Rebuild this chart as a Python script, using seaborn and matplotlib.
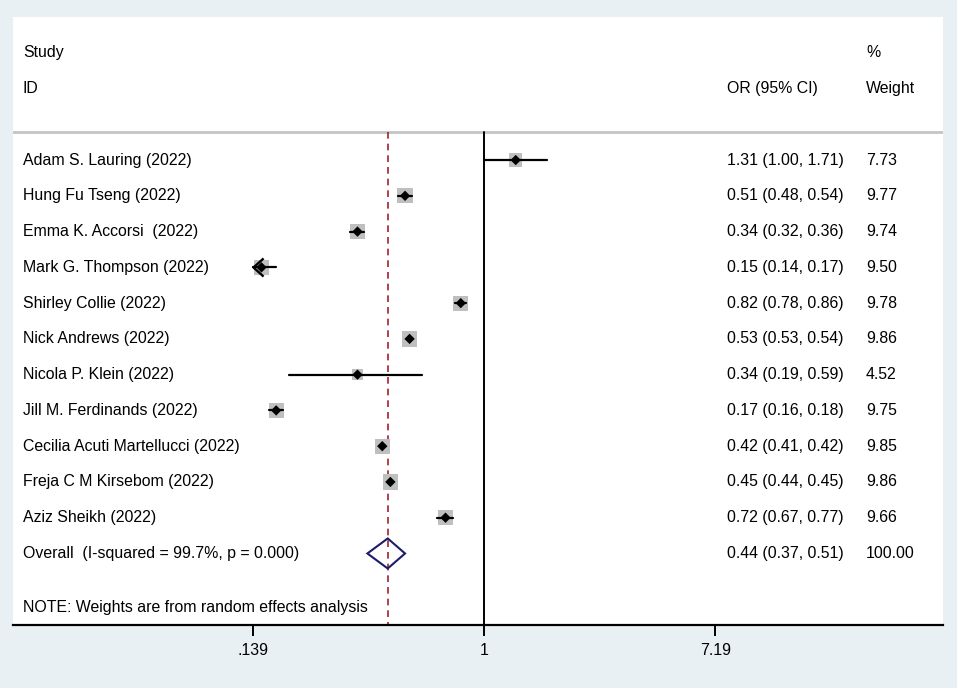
import matplotlib
matplotlib.use('Agg')
import matplotlib.pyplot as plt
from matplotlib.path import Path
import seaborn as sns
import pandas as pd
import numpy as np

studies = ['Adam S. Lauring (2022)', 'Hung Fu Tseng (2022)', 'Emma K. Accorsi  (2022)',
           'Mark G. Thompson (2022)', 'Shirley Collie (2022)', 'Nick Andrews (2022)',
           'Nicola P. Klein (2022)', 'Jill M. Ferdinands (2022)',
           'Cecilia Acuti Martellucci (2022)', 'Freja C M Kirsebom (2022)', 'Aziz Sheikh (2022)']
odds = [1.31, 0.51, 0.34, 0.15, 0.82, 0.53, 0.34, 0.17, 0.42, 0.45, 0.72]
lower = [1.00, 0.48, 0.32, 0.14, 0.78, 0.53, 0.19, 0.16, 0.41, 0.44, 0.67]
upper = [1.71, 0.54, 0.36, 0.17, 0.86, 0.54, 0.59, 0.18, 0.42, 0.45, 0.77]
weights = [7.73, 9.77, 9.74, 9.50, 9.78, 9.86, 4.52, 9.75, 9.85, 9.86, 9.66]
ci_text = ['1.31 (1.00, 1.71)', '0.51 (0.48, 0.54)', '0.34 (0.32, 0.36)', '0.15 (0.14, 0.17)',
           '0.82 (0.78, 0.86)', '0.53 (0.53, 0.54)', '0.34 (0.19, 0.59)', '0.17 (0.16, 0.18)',
           '0.42 (0.41, 0.42)', '0.45 (0.44, 0.45)', '0.72 (0.67, 0.77)']
weight_text = ['7.73', '9.77', '9.74', '9.50', '9.78', '9.86', '4.52', '9.75', '9.85', '9.86', '9.66']

overall_label = 'Overall  (I-squared = 99.7%, p = 0.000)'
overall = [0.44, 0.37, 0.51]
overall_text = '0.44 (0.37, 0.51)'
overall_weight = '100.00'
xticks = [0.139, 1, 7.19]
xtick_labels = ['.139', '1', '7.19']
clip_left = 0.139

df = pd.DataFrame({'study': studies, 'or': odds, 'lo': lower, 'hi': upper, 'w': weights})
df['row'] = np.arange(len(df))

sns.set_style('white')
plt.rcParams['font.family'] = ['Liberation Sans', 'DejaVu Sans']
plt.rcParams['text.color'] = 'black'
plt.rcParams['xtick.color'] = 'black'

fig = plt.figure(figsize=(9.57, 6.88), dpi=100)
fig.patch.set_facecolor('#e9f0f3')
ax = fig.add_axes([13 / 957, 63 / 688, 930 / 957, 608 / 688])
ax.set_facecolor('white')
ax.set_xscale('log')
ax.set_xlim(0.01804, 50.0)
ax.set_ylim(13.0, -4.0)

# reference lines
ax.plot([1, 1], [-0.78, 13.0], color='black', lw=1.4, zorder=2)
ax.plot([overall[0], overall[0]], [-0.78, 13.0], color='#a3202a', lw=1.2,
        ls=(0, (4, 3)), zorder=2)
ax.axhline(-0.78, color='#c4c4c4', lw=2, zorder=1)

# weight boxes (area proportional to weight)
ax.scatter(df['or'], df['row'], s=(3.5 * np.sqrt(df['w'])) ** 2, marker='s', color='#bfbfbf',
           edgecolor='none', zorder=3)

# confidence intervals, clipped ones get an open arrow
chevron = Path([(1, 0.9), (0, 0), (1, -0.9)], [Path.MOVETO, Path.LINETO, Path.LINETO])
for _, r in df.iterrows():
    lo = max(r['lo'], clip_left)
    ax.plot([lo, r['hi']], [r['row'], r['row']], color='black', lw=1.6, zorder=4)
    if r['lo'] < clip_left + 0.002:
        ax.plot([clip_left], [r['row']], marker=chevron, ms=14.5, mfc='none', mec='black',
                mew=1.7, zorder=6)

sns.scatterplot(data=df, x='or', y='row', marker='D', s=28, color='black',
                edgecolor='none', ax=ax, zorder=5, legend=False)

# overall diamond
oy = len(df)
ax.fill([overall[1], overall[0], overall[2], overall[0], overall[1]],
        [oy, oy - 0.42, oy, oy + 0.42, oy], facecolor='none', edgecolor='#1c1c6b',
        lw=1.5, zorder=5)

# text columns
fs = 11.4
tx = ax.get_yaxis_transform()
x_name, x_ci, x_w = 10 / 930, 714 / 930, 853 / 930
ax.text(x_name, -3.0, 'Study', transform=tx, fontsize=fs, va='center')
ax.text(x_name, -2.0, 'ID', transform=tx, fontsize=fs, va='center')
ax.text(x_ci, -2.0, 'OR (95% CI)', transform=tx, fontsize=fs, va='center')
ax.text(x_w, -3.0, '%', transform=tx, fontsize=fs, va='center')
ax.text(x_w, -2.0, 'Weight', transform=tx, fontsize=fs, va='center')
for i in range(len(studies)):
    ax.text(x_name, i, studies[i], transform=tx, fontsize=fs, va='center')
    ax.text(x_ci, i, ci_text[i], transform=tx, fontsize=fs, va='center')
    ax.text(x_w, i, weight_text[i], transform=tx, fontsize=fs, va='center')
ax.text(x_name, oy, overall_label, transform=tx, fontsize=fs, va='center')
ax.text(x_ci, oy, overall_text, transform=tx, fontsize=fs, va='center')
ax.text(x_w, oy, overall_weight, transform=tx, fontsize=fs, va='center')
ax.text(x_name, 12.5, 'NOTE: Weights are from random effects analysis', transform=tx,
        fontsize=fs, va='center')

# axes styling
for s in ['left', 'top', 'right']:
    ax.spines[s].set_visible(False)
ax.spines['bottom'].set_color('black')
ax.spines['bottom'].set_linewidth(1.6)
ax.set_yticks([])
ax.set_xticks(xticks)
ax.set_xticklabels(xtick_labels, fontsize=fs)
ax.xaxis.set_minor_locator(matplotlib.ticker.NullLocator())
ax.tick_params(axis='x', bottom=True, length=8, width=1.4, color='black', pad=5)
ax.set_xlabel('')
ax.set_ylabel('')

fig.savefig('out.png', dpi=100, facecolor=fig.get_facecolor())
